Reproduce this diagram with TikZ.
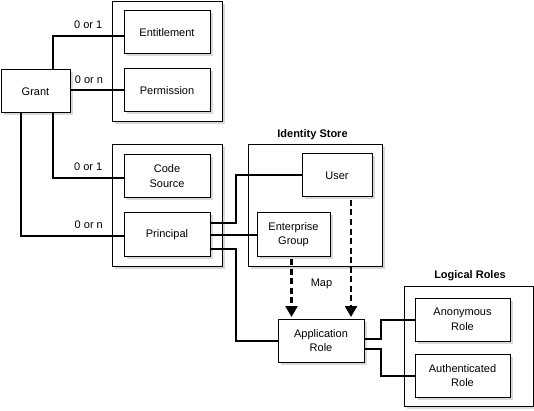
\documentclass[tikz,border=0pt]{standalone}
\usepackage{fontspec}
\setmainfont{Liberation Sans}
\usepackage{tikz}
\usetikzlibrary{arrows.meta}
\usetikzlibrary{positioning}
\usetikzlibrary{shadows}
\definecolor{shadowgray}{rgb}{0.85,0.85,0.85}
\tikzstyle{every node}=[font=\fontsize{11}{14.5}\selectfont]

\begin{document}
\begin{tikzpicture}[x=1pt,y=-1pt,>={Triangle[width=12pt,length=11pt]},
    box/.style={draw,line width=1pt,fill=white,inner sep=0pt,outer sep=0pt,align=center,minimum height=43pt,
        general shadow={fill=shadowgray,shadow xshift=2.5pt,shadow yshift=-2.5pt}},
    group/.style={box,minimum width=110pt,minimum height=120pt},
    conn/.style={line width=2pt},
    mapline/.style={->,line width=2.5pt,dash pattern=on 6pt off 3.5pt,shorten <=3pt,shorten >=2pt},
    lab/.style={above=6pt,inner sep=0pt},
    title/.style={font=\fontsize{11}{14.5}\selectfont\bfseries,inner sep=0pt}]
\useasboundingbox (0,0) rectangle (534,411);
% groups
\node[group] (grpA) at (167,62) {};
\node[group,minimum height=121pt] (grpB) at (167,205.5) {};
\node[group,minimum width=134pt,minimum height=121pt] (idstore) at (315,205.5) {};
\node[group,minimum width=129pt] (logroles) at (468.5,346) {};
\node[title,above=5pt of idstore,xshift=-2.5pt] (idtitle) {Identity Store};
\node[title,above=5pt of logroles,xshift=1.5pt] (lrtitle) {Logical Roles};
% boxes
\node[box,minimum width=69pt] (grant) at (35.5,91.5) {Grant};
\node[box,minimum width=86pt] (entitle) at (167,32.5) {Entitlement};
\node[box,minimum width=86pt] (perm) at (167,90.5) {Permission};
\node[box,minimum width=86pt] (codesrc) at (167,176) {Code\\Source};
\node[box,minimum width=86pt] (principal) at (167,234.5) {Principal};
\node[box,minimum width=70pt] (user) at (337,175.5) {User};
\node[box,minimum width=73pt] (entgroup) at (293.5,234.5) {Enterprise\\Group};
\node[box,minimum width=86pt] (approle) at (321,340.5) {Application\\Role};
\node[box,minimum width=95pt] (anonrole) at (462.5,319.5) {Anonymous\\Role};
\node[box,minimum width=95pt] (authrole) at (462.5,375.5) {Authenticated\\Role};
% grant links
\draw[conn] ([xshift=17pt]grant.north) |- ([yshift=-3.5pt]entitle.west) node[lab,pos=0.75] (l1) {0 or 1};
\draw[conn] (grant.east |- perm.west) -- (perm.west) node[lab,pos=0.35] (l2) {0 or n};
\draw[conn] ([xshift=17pt]grant.south) |- ([yshift=-2pt]codesrc.west) node[lab,pos=0.75] (l3) {0 or 1};
\draw[conn] ([xshift=-15pt]grant.south) |- ([yshift=-1.5pt]principal.west) node[lab,pos=0.83] (l4) {0 or n};
% principal links
\draw[conn] ([yshift=11pt]principal.east) -- ++(26,0) |- (user.west);
\draw[conn] (principal.east) -- (entgroup.west);
\draw[conn] ([yshift=-14pt]principal.east) -- ++(26,0) |- (approle.west);
% roles
\draw[conn] ([yshift=1.5pt]approle.east) -- ++(17,0) |- (anonrole.west);
\draw[conn] ([yshift=-8.5pt]approle.east) -- ++(17,0) |- (authrole.west);
% map
\coordinate (usermap) at ([xshift=14pt]user.south);
\coordinate (groupmap) at ([xshift=-2pt]entgroup.south);
\draw[mapline] (groupmap) -- (groupmap |- approle.north);
\draw[mapline] (usermap) -- (usermap |- approle.north);
\node (maplabel) at (321.5,284) {Map};
\end{tikzpicture}
\end{document}
